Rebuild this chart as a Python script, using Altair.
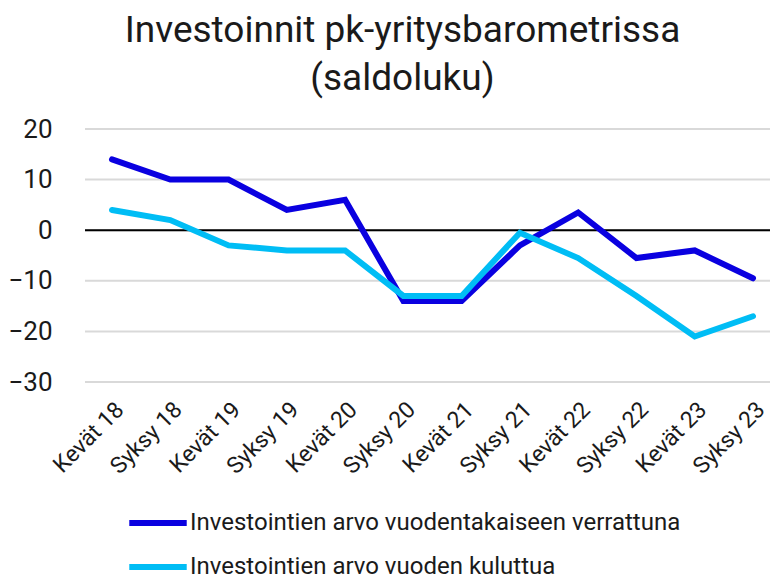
import altair as alt
import pandas as pd

categories = ["Kevät 18", "Syksy 18", "Kevät 19", "Syksy 19", "Kevät 20", "Syksy 20",
              "Kevät 21", "Syksy 21", "Kevät 22", "Syksy 22", "Kevät 23", "Syksy 23"]
series_names = ["Investointien arvo vuodentakaiseen verrattuna",
                "Investointien arvo vuoden kuluttua"]
values_prev_year = [14, 10, 10, 4, 6, -14, -14, -3, 3.5, -5.5, -4, -9.5]
values_next_year = [4, 2, -3, -4, -4, -13, -13, -0.5, -5.5, -13, -21, -17]
y_ticks = [-30, -20, -10, 0, 10, 20]
colors = ["#0A00E0", "#00BDF5"]

rows = []
for name, vals in zip(series_names, [values_prev_year, values_next_year]):
    for c, v in zip(categories, vals):
        rows.append({"Kausi": c, "Sarja": name, "Saldo": v})
df = pd.DataFrame(rows)

FONT = "Roboto"
y_scale = alt.Scale(domain=[-30, 20], nice=False)
y_axis = alt.Axis(title=None, values=y_ticks, labelFontSize=26, labelFont=FONT,
                  labelColor="#1a1a1a", ticks=False, domain=False, grid=False,
                  labelPadding=33)

x_enc = alt.X("Kausi:N", sort=categories,
              scale=alt.Scale(type="point", range=[27, 668], padding=0),
              axis=alt.Axis(title=None, labelAngle=-45, labelFontSize=23, labelFont=FONT,
                            labelColor="#1a1a1a", ticks=False, domain=False, grid=False,
                            labelPadding=16))

grid = alt.Chart(pd.DataFrame({"Saldo": y_ticks})).mark_rule(
    color="#d9d9d9", strokeWidth=2).encode(
    y=alt.Y("Saldo:Q", scale=y_scale, axis=y_axis))

zero = alt.Chart(pd.DataFrame({"Saldo": [0]})).mark_rule(
    color="black", strokeWidth=2).encode(
    y=alt.Y("Saldo:Q", scale=y_scale, axis=y_axis))

lines = alt.Chart(df).mark_line(strokeWidth=6, strokeCap="round", strokeJoin="miter").encode(
    x=x_enc,
    y=alt.Y("Saldo:Q", scale=y_scale, axis=y_axis),
    color=alt.Color("Sarja:N", sort=series_names,
                    scale=alt.Scale(domain=series_names, range=colors),
                    legend=alt.Legend(title=None, orient="none", legendX=41, legendY=362,
                                      direction="vertical", symbolType="stroke",
                                      symbolStrokeWidth=6, symbolSize=3300,
                                      labelFontSize=24, labelFont=FONT, labelColor="#1a1a1a",
                                      labelOffset=0, rowPadding=-15, labelLimit=700)),
)

chart = alt.layer(grid, zero, lines).properties(
    width=685, height=253,
    title=alt.Title(["Investoinnit pk-yritysbarometrissa", "(saldoluku)"],
                    fontSize=37, font=FONT, fontWeight="normal", color="#1a1a1a",
                    lineHeight=48, anchor="middle", offset=18, dx=-25),
    autosize=alt.AutoSizeParams(type="none"),
    padding={"left": 77, "top": 121, "right": 0, "bottom": 197},
).configure_view(stroke=None)

chart.save("out.html", embed_options={"renderer": "svg", "actions": False})
